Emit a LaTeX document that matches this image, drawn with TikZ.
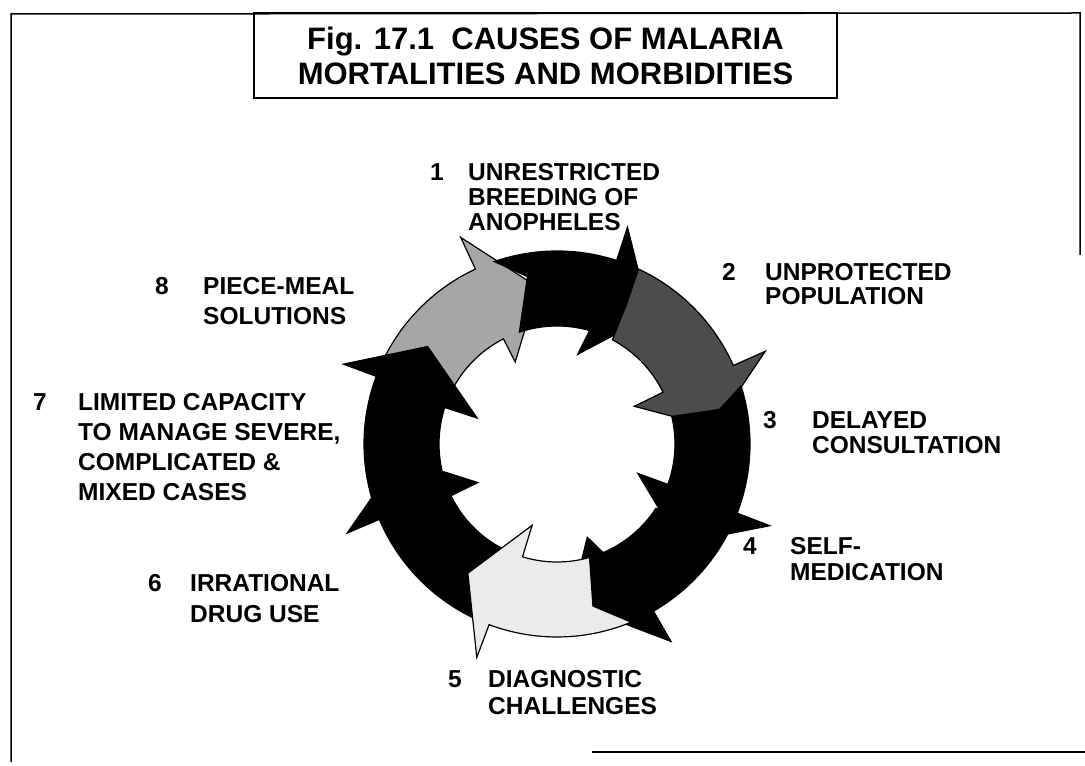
\documentclass[tikz,border=0pt]{standalone}
\usepackage{fontspec}
\setmainfont{Liberation Sans}
\begin{document}
\begin{tikzpicture}[x=1pt,y=1pt,
  causenum/.style={anchor=north west,inner sep=0pt,font=\bfseries\fontsize{24.5}{27}\selectfont},
  causetext/.style={anchor=north west,inner sep=0pt,align=left,font=\bfseries\fontsize{24.5}{#1}\selectfont},
  causetext/.default=27,
  ringseg/.style={draw=black,line width=1.2pt,line join=miter}]

\useasboundingbox (0,0) rectangle (1085,766);

% ---------- frame ----------
\draw[line width=1.5pt] (11,4) -- (11,752) -- (1080,753) -- (1080,511);
\draw[line width=1.5pt] (592,14) -- (1085,14);

% ---------- title ----------
\node[draw,line width=1.5pt,minimum width=583pt,minimum height=85pt,align=center,
      font=\bfseries\fontsize{31}{35}\selectfont] (title) at (545.5,710.5)
      {Fig. 17.1\ \ CAUSES OF MALARIA\\MORTALITIES AND MORBIDITIES};

% ---------- ring of arrows ----------
% each one: tail -- outer arc -- head (barb, tip, barb) -- inner arc -- notch
\begin{scope}[shift={(557,322)}]
% 8 first, 7 sits on its tail
\filldraw[ringseg,fill=black!35] (156:193) arc[start angle=156,end angle=115,radius=193]
  -- (115:228) -- (97:158) -- (117:92) -- (117:118) arc[start angle=117,end angle=156,radius=118]
  -- (156:155) -- cycle;
% 1
\filldraw[ringseg,fill=black] (109:193) arc[start angle=109,end angle=72,radius=193]
  -- (72:228) -- (54:158) -- (77:92) -- (74:118) arc[start angle=74,end angle=108.6,radius=118]
  -- (100:170) -- cycle;
% 2
\filldraw[ringseg,fill=black!70] (65:193) arc[start angle=65,end angle=24,radius=193]
  -- (24:228) -- (6:158) -- (26:86) -- (26:118) arc[start angle=26,end angle=62,radius=118]
  -- (63.5:155) -- cycle;
% 3
\filldraw[ringseg,fill=black] (17.5:193) arc[start angle=17.5,end angle=-21,radius=193]
  -- (-21:228) -- (-39:158) -- (-20:86) -- (-20:118) arc[start angle=-20,end angle=13.5,radius=118]
  -- (12:166) -- cycle;
% 4
\filldraw[ringseg,fill=black] (-28:193) arc[start angle=-28,end angle=-60,radius=193]
  -- (-60:228) -- (-85:160) -- (-72:98) -- (-67:118) arc[start angle=-67,end angle=-33,radius=118]
  -- (-30:155) -- cycle;
% 6 before 5, so the tip of 5 stays on top
\filldraw[ringseg,fill=black] (-113:193) arc[start angle=-113,end angle=-157,radius=193]
  -- (-157:228) -- (-175:158) -- (-154:88) -- (-154:118) arc[start angle=-154,end angle=-113,radius=118]
  -- (-113:155) -- cycle;
% 5
\filldraw[ringseg,fill=black!8] (-67.4:193) arc[start angle=-67.4,end angle=-110.6,radius=193]
  -- (-110.6:228) -- (-124.6:157) -- (-107:85) -- (-107:118) arc[start angle=-107,end angle=-74,radius=118]
  -- (-77.5:166) -- cycle;
% 7
\filldraw[ringseg,fill=black] (-164:193) arc[start angle=-164,end angle=-200.5,radius=193]
  -- (-200.5:228) -- (-217:162) -- (-198:84) -- (-198:118) arc[start angle=-198,end angle=-167,radius=118]
  -- (-165:155) -- cycle;
\end{scope}

% ---------- causes ----------
\node[causenum] (num1) at (430,603) {1};
\node[causetext=25] (cause1) at (468,603) {UNRESTRICTED\\BREEDING OF\\ANOPHELES};

\node[causenum] (num2) at (722,503) {2};
\node[causetext=24.5] (cause2) at (765,503) {UNPROTECTED\\POPULATION};

\node[causenum] (num3) at (763,355) {3};
\node[causetext=25] (cause3) at (812,355) {DELAYED\\CONSULTATION};

\node[causenum] (num4) at (743,229) {4};
\node[causetext=26] (cause4) at (790,229) {SELF-\\MEDICATION};

\node[causenum] (num5) at (448,96) {5};
\node[causetext=27] (cause5) at (488,96) {DIAGNOSTIC\\CHALLENGES};

\node[causenum] (num6) at (148,192) {6};
\node[causetext=31] (cause6) at (190,192) {IRRATIONAL\\DRUG USE};

\node[causenum] (num7) at (33,373) {7};
\node[causetext=30] (cause7) at (78,373) {LIMITED CAPACITY\\TO MANAGE SEVERE,\\COMPLICATED \&\\MIXED CASES};

\node[causenum] (num8) at (155,489) {8};
\node[causetext=30] (cause8) at (203,489) {PIECE-MEAL\\SOLUTIONS};

\end{tikzpicture}
\end{document}
